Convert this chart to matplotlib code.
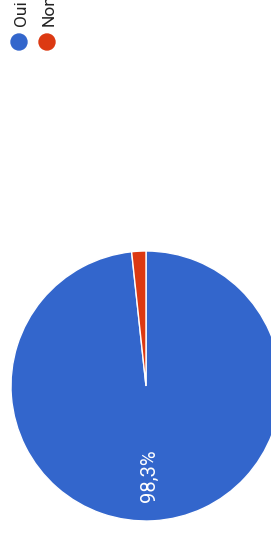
import matplotlib
matplotlib.use("Agg")
import matplotlib.pyplot as plt
from matplotlib.patches import Circle

# data
labels = ["Oui", "Non"]
values = [98.3, 1.7]
colors = ["#3366CC", "#DC3912"]
pct_label = "98,3%"

W, H = 271, 534
fig = plt.figure(figsize=(W / 100, H / 100), dpi=100)
fig.patch.set_facecolor("white")

# pie axes: center (146, 386) px, radius 135 px
r = 135
cx, cy = 146, 386
ax = fig.add_axes([(cx - r) / W, (H - cy - r) / H, 2 * r / W, 2 * r / H])
wedges, _ = ax.pie(values, colors=colors, startangle=90, counterclock=False,
                   radius=1, wedgeprops=dict(edgecolor="white", linewidth=1))
for w in wedges:
    w.set_clip_on(False)
ax.set_xlim(-1, 1)
ax.set_ylim(-1, 1)
ax.set_aspect("equal")
ax.axis("off")
ax.text(0.025, -0.667, pct_label, rotation=90, color="white", fontsize=14.5,
        ha="center", va="center", family="Roboto")

# legend (rotated)
lax = fig.add_axes([0, 0, 1, 1], facecolor="none")
lax.set_xlim(0, W)
lax.set_ylim(H, 0)
lax.axis("off")
for i, (lab, col) in enumerate(zip(labels, colors)):
    x = 19 + 28 * i
    lax.add_patch(Circle((x, 42), 8, color=col))
    lax.text(x + 1, 26, lab, rotation=90, rotation_mode="anchor", ha="left",
             va="center_baseline", fontsize=12.5, color="#222222", family="Roboto")

fig.savefig("out.png", dpi=100)
